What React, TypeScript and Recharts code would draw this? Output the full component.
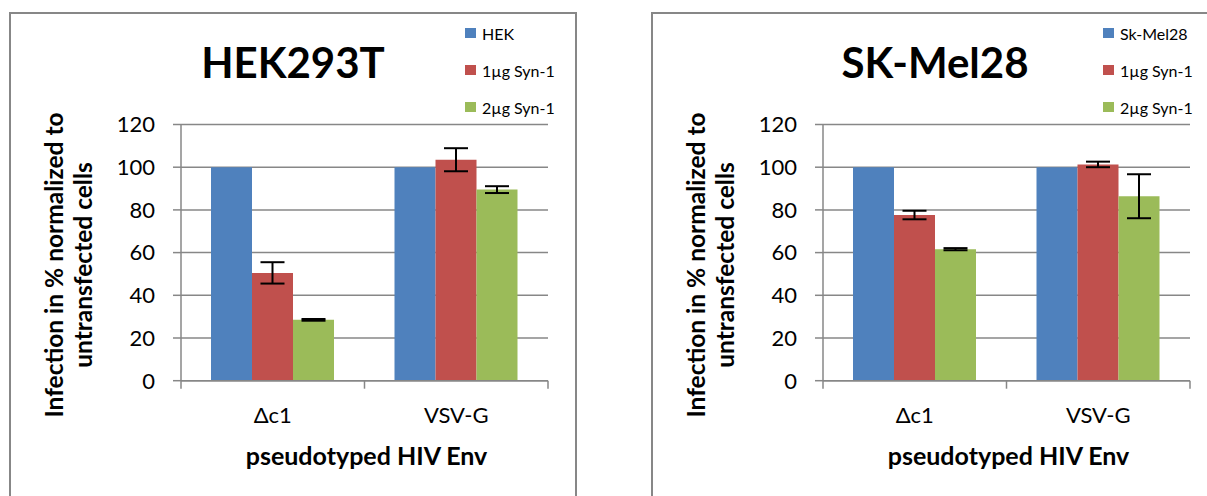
import React from 'react';
import { BarChart, Bar, XAxis, YAxis, CartesianGrid, ErrorBar } from 'recharts';

// ---------- data ----------
const categories = ['Δc1', 'VSV-G'];
const yTicks = [0, 20, 40, 60, 80, 100, 120];

const hekControl = [100, 100];
const hek1ug = [50.5, 103.5];
const hek1ugErr = [5.0, 5.4];
const hek2ug = [28.5, 89.5];
const hek2ugErr = [0.4, 1.6];

const melControl = [100, 100];
const mel1ug = [77.6, 101.3];
const mel1ugErr = [2.0, 1.3];
const mel2ug = [61.6, 86.4];
const mel2ugErr = [0.5, 10.3];

const seriesNames1 = ['HEK', '1µg Syn-1', '2µg Syn-1'];
const seriesNames2 = ['Sk-Mel28', '1µg Syn-1', '2µg Syn-1'];

const build = (c: number[], s1: number[], e1: number[], s2: number[], e2: number[]) =>
  categories.map((cat, i) => ({ cat, ctrl: c[i], s1: s1[i], e1: e1[i], s2: s2[i], e2: e2[i] }));

const hekData = build(hekControl, hek1ug, hek1ugErr, hek2ug, hek2ugErr);
const melData = build(melControl, mel1ug, mel1ugErr, mel2ug, mel2ugErr);

// ---------- layout ----------
const FONT = 'Lato, "Open Sans", sans-serif';
const GRID = '#878787';
const COLORS = ['#4F81BD', '#C0504D', '#9BBB59'];
const W = 600;
const H = 496;
const M = { top: 124.5, right: 52, bottom: 55.3, left: 30 };
const Y_W = 151;
const X_H = 60;
const AXIS_Y = H - M.bottom - X_H;
const BW = (W - M.left - M.right - Y_W) / categories.length;
const PLOT_CX = M.left + Y_W + (W - M.left - M.right - Y_W) / 2;

const XTick = (props: any) => {
  const { x, payload, index } = props;
  const last = index === categories.length - 1;
  return (
    <g>
      <line x1={x - BW / 2} x2={x - BW / 2} y1={AXIS_Y} y2={AXIS_Y + 8} stroke={GRID} strokeWidth={1.5} />
      {last && <line x1={x + BW / 2} x2={x + BW / 2} y1={AXIS_Y} y2={AXIS_Y + 8} stroke={GRID} strokeWidth={1.5} />}
      <text x={x} y={AXIS_Y + 42} textAnchor="middle" fontSize={22} fill="#000" fontFamily={FONT}>
        {payload.value}
      </text>
    </g>
  );
};

const YLabel = () => {
  const cy = 265;
  return (
    <g fontFamily={FONT} fontWeight={700} fontSize={24.5} fill="#000">
      <text x={63} y={cy} textAnchor="middle" transform={`rotate(-90, 63, ${cy})`}>
        Infection in % normalized to
      </text>
      <text x={92} y={cy} textAnchor="middle" transform={`rotate(-90, 92, ${cy})`}>
        untransfected cells
      </text>
    </g>
  );
};

const XLabel = () => (
  <text x={PLOT_CX + 2} y={465} textAnchor="middle" fontFamily={FONT} fontWeight={700} fontSize={25} fill="#000">
    pseudotyped HIV Env
  </text>
);

const LegendBox = ({ names, left }: any) => (
  <div style={{ position: 'absolute', left, top: 14.5, fontFamily: FONT, fontSize: 16, color: '#000' }}>
    {names.map((n: string, i: number) => (
      <div key={n} style={{ display: 'flex', alignItems: 'center', height: 37, whiteSpace: 'nowrap' }}>
        <span style={{ display: 'inline-block', width: 10.5, height: 10.5, background: COLORS[i], marginRight: 6.5 }} />
        {n}
      </div>
    ))}
  </div>
);

const Panel = ({ offsetX, title, names, data, legendLeft }: any) => (
  <div style={{ position: 'absolute', left: offsetX, top: 0, width: W, height: H }}>
    <div
      style={{
        position: 'absolute',
        left: 9,
        top: 12,
        width: 568,
        height: 500,
        border: `2px solid ${GRID}`,
        boxSizing: 'border-box',
      }}
    />
    <div
      style={{
        position: 'absolute',
        left: 9,
        top: 37,
        width: 568,
        textAlign: 'center',
        fontFamily: FONT,
        fontWeight: 700,
        fontSize: 42,
        lineHeight: '50px',
        color: '#000',
      }}
    >
      {title}
    </div>
    <div style={{ position: 'absolute', left: 0, top: 0, fontFamily: FONT }}>
      <BarChart width={W} height={H} data={data} margin={M} barCategoryGap={30} barGap={0}>
        <CartesianGrid vertical={false} stroke={GRID} strokeWidth={1.5} />
        <XAxis
          dataKey="cat"
          height={X_H}
          interval={0}
          axisLine={{ stroke: GRID, strokeWidth: 1.5 }}
          tickLine={false}
          tick={<XTick />}
          label={<XLabel />}
        />
        <YAxis
          type="number"
          domain={[0, 120]}
          ticks={yTicks}
          width={Y_W}
          tickSize={8}
          tickMargin={18}
          tick={{ fontSize: 22, fill: '#000', fontFamily: FONT }}
          tickLine={{ stroke: GRID, strokeWidth: 1.5 }}
          axisLine={{ stroke: GRID, strokeWidth: 1.5 }}
          label={<YLabel />}
        />
        <Bar dataKey="ctrl" name={names[0]} fill={COLORS[0]} isAnimationActive={false} />
        <Bar dataKey="s1" name={names[1]} fill={COLORS[1]} isAnimationActive={false}>
          <ErrorBar dataKey="e1" width={12} strokeWidth={2} stroke="#000" direction="y" />
        </Bar>
        <Bar dataKey="s2" name={names[2]} fill={COLORS[2]} isAnimationActive={false}>
          <ErrorBar dataKey="e2" width={12} strokeWidth={2} stroke="#000" direction="y" />
        </Bar>
      </BarChart>
    </div>
    <LegendBox names={names} left={legendLeft} />
  </div>
);

export default function App() {
  return (
    <div style={{ position: 'absolute', left: 0, top: 0, width: 1207, height: 496, overflow: 'hidden', background: '#fff' }}>
      <Panel offsetX={0} title="HEK293T" names={seriesNames1} data={hekData} legendLeft={465} />
      <Panel offsetX={642} title="SK-Mel28" names={seriesNames2} data={melData} legendLeft={461} />
    </div>
  );
}
